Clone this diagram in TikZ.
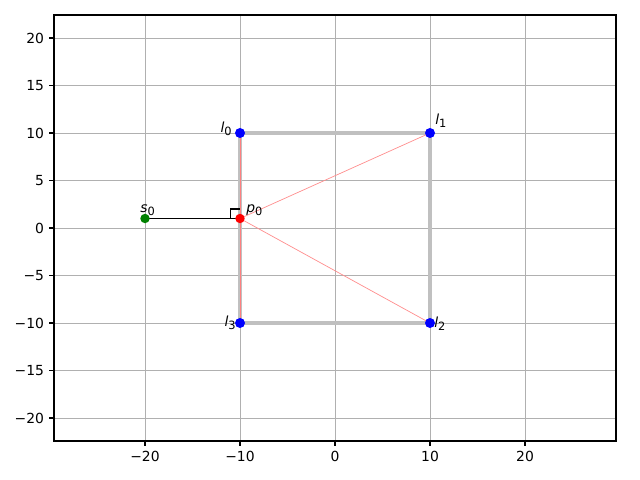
\documentclass[tikz,border=0pt]{standalone}
\usepackage{fontspec}
\setmainfont{DejaVu Sans}
\newcommand\plab[2]{\textit{#1}\raisebox{-0.18em}{\fontsize{8.2}{8.2}\selectfont #2}}
\definecolor{gridgray}{HTML}{B0B0B0}
\definecolor{sqgray}{HTML}{C0C0C0}
\definecolor{mplgreen}{HTML}{008000}
\begin{document}
\begin{tikzpicture}[x=0.72pt,y=0.72pt,
  ticklab/.style={font=\fontsize{10}{12}\selectfont,inner sep=0pt},
  ptlab/.style={font=\fontsize{10}{12}\selectfont,inner sep=0pt},
  gridline/.style={draw=gridgray,line width=0.7pt},
  tickmark/.style={draw=black,line width=0.8pt}]
\useasboundingbox (0,0) rectangle (640,480);
\begin{scope}[shift={(241.2pt,181.44pt)},x=6.84pt,y=6.84pt]
  % grid
  \foreach \gx in {-20,-10,0,10,20}
    \draw[gridline] (\gx,-22.42) -- (\gx,22.42);
  \foreach \gy in {-20,-15,-10,-5,0,5,10,15,20}
    \draw[gridline] (-29.58,\gy) -- (29.58,\gy);
  % points
  \coordinate (l0) at (-10,10);
  \coordinate (l1) at (10,10);
  \coordinate (l2) at (10,-10);
  \coordinate (l3) at (-10,-10);
  \coordinate (s0) at (-20,1);
  \coordinate (p0) at (-10,1);
  \coordinate (ra1) at (-11,1);
  \coordinate (ra2) at (-11,2);
  \coordinate (ra3) at (-10,2);
  % square
  \draw[sqgray,line width=2.3pt] (l0) -- (l1) -- (l2) -- (l3) -- cycle;
  \draw[red!50,line width=0.6pt] (l3) -- (l0);
  % rays
  \draw[red!45,line width=0.5pt] (p0) -- (l1);
  \draw[red!45,line width=0.5pt] (p0) -- (l2);
  % s0 to p0
  \draw[black,line width=0.6pt] (s0) -- (p0);
  \draw[black,line width=0.9pt] (ra1) -- (ra2) -- (ra3);
  % markers
  \foreach \p in {l0,l1,l2,l3} \fill[blue] (\p) circle[radius=3.6pt];
  \fill[mplgreen] (s0) circle[radius=3.4pt];
  \fill[red] (p0) circle[radius=3.4pt];
  % axes frame
  \draw[black,line width=0.8pt] (-29.58,-22.42) rectangle (29.58,22.42);
  % ticks
  \foreach \gx/\t in {-20/−20,-10/−10,0/0,10/10,20/20} {
    \draw[tickmark] (\gx,-22.42) -- ++(0,-3.5pt);
    \node[ticklab,anchor=north] (xt\gx) at ([yshift=-7pt]\gx,-22.42) {\t};
  }
  \foreach \gy/\t in {-20/−20,-15/−15,-10/−10,-5/−5,0/0,5/5,10/10,15/15,20/20} {
    \draw[tickmark] (-29.58,\gy) -- ++(-3.5pt,0);
    \node[ticklab,anchor=east] (yt\gy) at ([xshift=-7pt]-29.58,\gy) {\t};
  }
\end{scope}
% point labels (pixel coordinates)
\node[ptlab,anchor=base east] (tl0) at (232,347) {\plab{l}{0}};
\node[ptlab,anchor=base west] (tl1) at (435,355) {\plab{l}{1}};
\node[ptlab,anchor=base west] (tl2) at (434,152) {\plab{l}{2}};
\node[ptlab,anchor=base east] (tl3) at (236,153) {\plab{l}{3}};
\node[ptlab,anchor=base west] (ts0) at (140,267) {\plab{s}{0}};
\node[ptlab,anchor=base west] (tp0) at (246,267) {\plab{p}{0}};
\end{tikzpicture}
\end{document}
